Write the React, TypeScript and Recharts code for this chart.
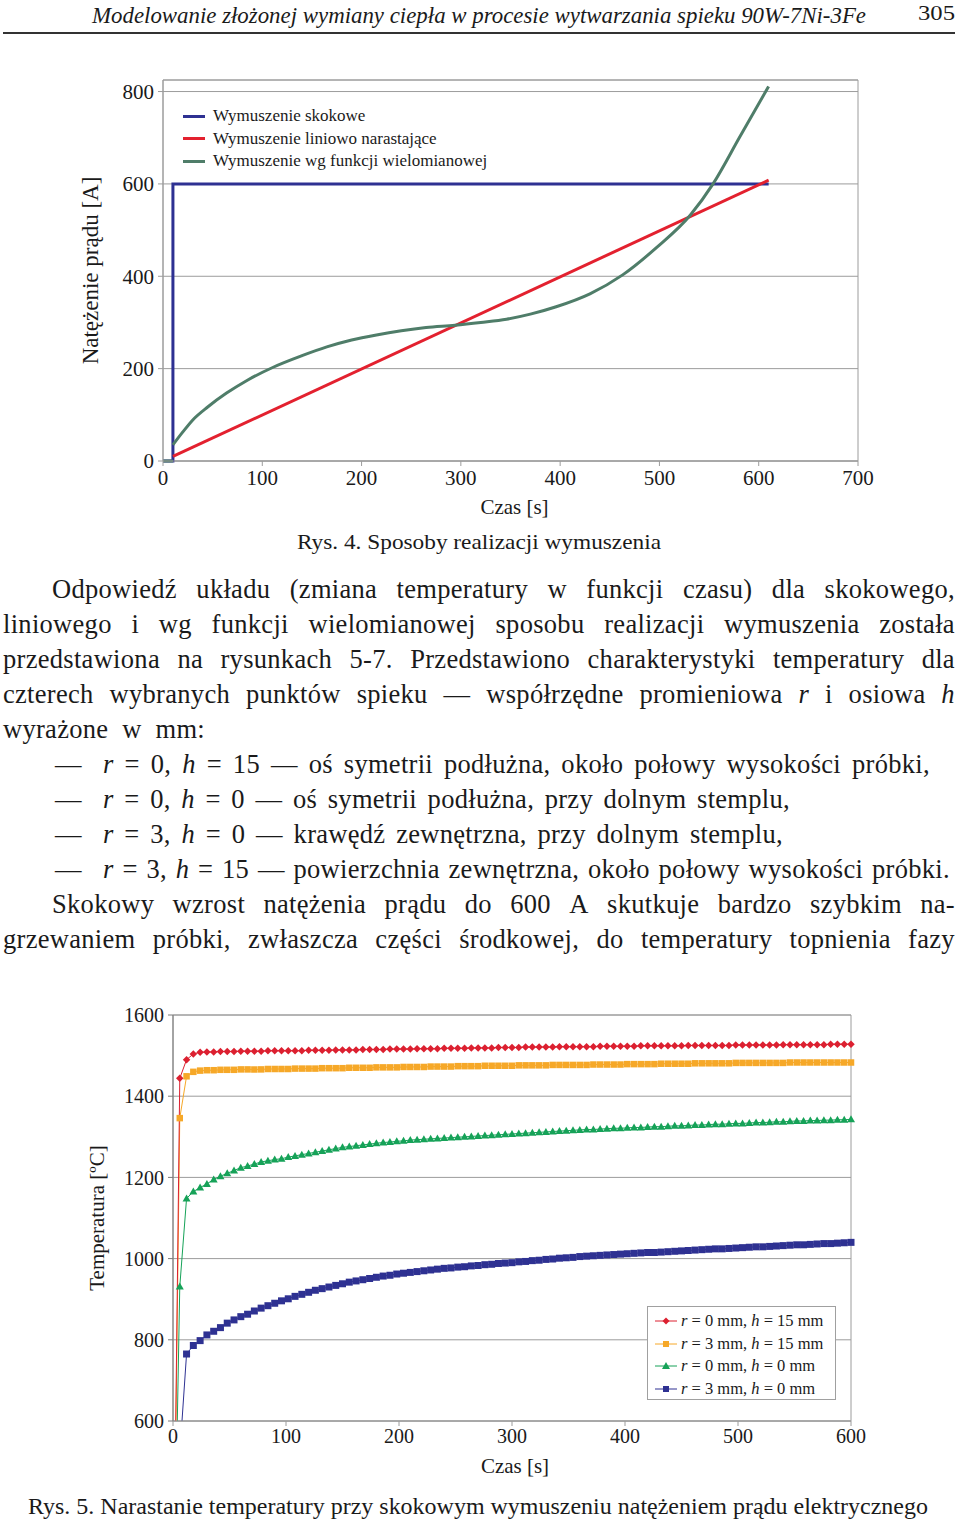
import React from "react";
import {
  LineChart,
  Line,
  XAxis,
  YAxis,
  CartesianGrid,
  ReferenceArea,
  Legend,
} from "recharts";

const SERIF = '"Liberation Serif", "Times New Roman", serif';

// ---- Rys. 4: current forcing [A] vs time [s]
const stepTime = [0, 10, 10, 610];
const stepCurrent = [0, 0, 600, 600];
const rampTime = [10, 610];
const rampCurrent = [10, 608];
const idleTime = [0, 10];
const idleCurrent = [0, 0];
const polyTime = [10, 20, 30, 45, 64, 85, 111, 140, 165, 190, 215, 240, 265, 294, 320, 346, 370, 396, 430, 463, 497, 531, 554, 581, 610];
const polyCurrent = [35, 63, 89, 117, 147, 175, 203, 228, 247, 262, 273, 282, 289, 294, 300, 307, 318, 334, 362, 403, 462, 532, 600, 702, 811];

const currentTicksX = [0, 100, 200, 300, 400, 500, 600, 700];
const currentTicksY = [0, 200, 400, 600, 800];

// ---- Rys. 5: temperature [°C] vs time [s]
const timeSec = [
  0, 6, 12, 18, 24, 30, 36, 42, 48, 54,
  60, 66, 72, 78, 84, 90, 96, 102, 108, 114,
  120, 126, 132, 138, 144, 150, 156, 162, 168, 174,
  180, 186, 192, 198, 204, 210, 216, 222, 228, 234,
  240, 246, 252, 258, 264, 270, 276, 282, 288, 294,
  300, 306, 312, 318, 324, 330, 336, 342, 348, 354,
  360, 366, 372, 378, 384, 390, 396, 402, 408, 414,
  420, 426, 432, 438, 444, 450, 456, 462, 468, 474,
  480, 486, 492, 498, 504, 510, 516, 522, 528, 534,
  540, 546, 552, 558, 564, 570, 576, 582, 588, 594,
  600,
];
const tempR0H15 = [
  20, 1444, 1490, 1504, 1508, 1509, 1509, 1510, 1510, 1510,
  1511, 1511, 1511, 1511, 1512, 1512, 1512, 1512, 1512, 1512,
  1513, 1513, 1513, 1513, 1514, 1514, 1514, 1514, 1515, 1515,
  1515, 1515, 1516, 1516, 1516, 1516, 1517, 1517, 1517, 1517,
  1518, 1518, 1518, 1518, 1519, 1519, 1519, 1519, 1520, 1520,
  1520, 1520, 1521, 1521, 1521, 1521, 1521, 1522, 1522, 1522,
  1522, 1522, 1522, 1523, 1523, 1523, 1523, 1523, 1523, 1524,
  1524, 1524, 1524, 1524, 1524, 1524, 1525, 1525, 1525, 1525,
  1525, 1525, 1525, 1526, 1526, 1526, 1526, 1526, 1526, 1526,
  1527, 1527, 1527, 1527, 1527, 1527, 1527, 1528, 1528, 1528,
  1528,
];
const tempR3H15 = [
  20, 1346, 1449, 1460, 1463, 1464, 1464, 1465, 1465, 1465,
  1466, 1466, 1466, 1466, 1467, 1467, 1467, 1467, 1468, 1468,
  1468, 1468, 1469, 1469, 1469, 1469, 1470, 1470, 1470, 1470,
  1471, 1471, 1471, 1471, 1472, 1472, 1472, 1472, 1473, 1473,
  1473, 1473, 1474, 1474, 1474, 1474, 1475, 1475, 1475, 1475,
  1475, 1476, 1476, 1476, 1476, 1476, 1477, 1477, 1477, 1477,
  1477, 1477, 1478, 1478, 1478, 1478, 1478, 1479, 1479, 1479,
  1479, 1479, 1480, 1480, 1480, 1480, 1480, 1481, 1481, 1481,
  1481, 1481, 1481, 1482, 1482, 1482, 1482, 1482, 1482, 1482,
  1482, 1483, 1483, 1483, 1483, 1483, 1483, 1483, 1483, 1483,
  1483,
];
const tempR0H0 = [
  20, 931, 1148, 1165, 1175, 1184, 1195, 1203, 1210, 1217,
  1224, 1228, 1233, 1238, 1241, 1244, 1246, 1250, 1253, 1256,
  1259, 1262, 1265, 1268, 1271, 1274, 1276, 1278, 1280, 1282,
  1284, 1286, 1287, 1289, 1290, 1292, 1293, 1294, 1295, 1296,
  1297, 1298, 1299, 1300, 1301, 1302, 1303, 1304, 1305, 1306,
  1307, 1308, 1309, 1310, 1311, 1312, 1313, 1314, 1315, 1316,
  1317, 1318, 1318, 1319, 1320, 1321, 1321, 1322, 1323, 1323,
  1324, 1325, 1325, 1326, 1327, 1327, 1328, 1329, 1329, 1330,
  1331, 1331, 1332, 1333, 1333, 1334, 1335, 1335, 1336, 1337,
  1337, 1338, 1339, 1339, 1340, 1340, 1341, 1341, 1342, 1342,
  1343,
];
const tempR3H0 = [
  20, 520, 765, 786, 798, 812, 821, 830, 841, 849,
  857, 863, 871, 878, 884, 890, 896, 901, 907, 912,
  917, 922, 926, 930, 934, 938, 942, 945, 948, 951,
  954, 957, 959, 962, 964, 966, 968, 970, 972, 974,
  976, 977, 979, 980, 982, 983, 985, 986, 988, 989,
  990, 992, 993, 995, 996, 998, 999, 1001, 1002, 1003,
  1005, 1006, 1007, 1008, 1009, 1010, 1011, 1012, 1013, 1014,
  1015, 1015, 1016, 1017, 1018, 1019, 1020, 1021, 1022, 1023,
  1024, 1024, 1025, 1026, 1027, 1028, 1029, 1029, 1030, 1031,
  1032, 1033, 1034, 1034, 1035, 1036, 1037, 1037, 1038, 1039,
  1040,
];

const tempTicksX = [0, 100, 200, 300, 400, 500, 600];
const tempTicksY = [600, 800, 1000, 1200, 1400, 1600];

const toPoints = (xs: number[], ys: number[]) => xs.map((t, i) => ({ t, v: ys[i] }));

const stepData = toPoints(stepTime, stepCurrent);
const rampData = toPoints(rampTime, rampCurrent);
const idleData = toPoints(idleTime, idleCurrent);
const polyData = toPoints(polyTime, polyCurrent);

const tempData = timeSec.map((t, i) => ({
  t,
  a: tempR0H15[i],
  b: tempR3H15[i],
  c: tempR0H0[i],
  d: tempR3H0[i],
}));

const C1_BLUE = "#2e3192";
const C1_RED = "#e3212f";
const C1_GREEN = "#4f7d69";

const C2_RED = "#dc2030";
const C2_ORANGE = "#f6a828";
const C2_GREEN = "#16a258";
const C2_BLUE = "#2e3192";

const GRID = "#9c9c9c";

type Kind = "diamond" | "square" | "triangle";

function markerPath(kind: Kind, cx: number, cy: number, size: number) {
  const s = size / 2;
  if (kind === "diamond") return `M${cx},${cy - s}L${cx + s},${cy}L${cx},${cy + s}L${cx - s},${cy}Z`;
  if (kind === "triangle") return `M${cx},${cy - s}L${cx + s},${cy + s * 0.75}L${cx - s},${cy + s * 0.75}Z`;
  return `M${cx - s},${cy - s}h${size}v${size}h${-size}Z`;
}

const makeDot = (kind: Kind, color: string, size: number) => (props: any) => {
  const { cx, cy, index } = props;
  const key = `dot-${kind}-${color}-${index}`;
  if (typeof cx !== "number" || typeof cy !== "number") return <g key={key} />;
  return <path key={key} d={markerPath(kind, cx, cy, size)} fill={color} />;
};

const yTitle = (text: React.ReactNode, dx: number, size: number) => (props: any) => {
  const vb = props.viewBox || {};
  const cx = vb.x + dx;
  const cy = vb.y + vb.height / 2;
  return (
    <text
      x={cx}
      y={cy}
      transform={`rotate(-90 ${cx} ${cy})`}
      textAnchor="middle"
      dominantBaseline="central"
      fill="#1a1a1a"
      style={{ fontFamily: SERIF, fontSize: size }}
    >
      {text}
    </text>
  );
};

const xTitle = (text: string, dx: number, dy: number, size: number) => (props: any) => {
  const vb = props.viewBox || {};
  return (
    <text
      x={vb.x + vb.width / 2 + dx}
      y={vb.y + dy}
      textAnchor="middle"
      dominantBaseline="central"
      fill="#1a1a1a"
      style={{ fontFamily: SERIF, fontSize: size }}
    >
      {text}
    </text>
  );
};

const currentLegend = () => {
  const rows = [
    { c: C1_BLUE, t: "Wymuszenie skokowe" },
    { c: C1_RED, t: "Wymuszenie liniowo narastające" },
    { c: C1_GREEN, t: "Wymuszenie wg funkcji wielomianowej" },
  ];
  return (
    <div style={{ fontFamily: SERIF, fontSize: 17, color: "#1a1a1a" }}>
      {rows.map((r) => (
        <div key={r.t} style={{ display: "flex", alignItems: "center", height: 22.5 }}>
          <span style={{ width: 22, height: 3, background: r.c, marginRight: 8 }} />
          <span style={{ whiteSpace: "nowrap" }}>{r.t}</span>
        </div>
      ))}
    </div>
  );
};

const tempLegend = () => {
  const rows: { c: string; k: Kind; s: number; r: string; h: string }[] = [
    { c: C2_RED, k: "diamond", s: 7, r: "0", h: "15" },
    { c: C2_ORANGE, k: "square", s: 6, r: "3", h: "15" },
    { c: C2_GREEN, k: "triangle", s: 8, r: "0", h: "0" },
    { c: C2_BLUE, k: "square", s: 6, r: "3", h: "0" },
  ];
  return (
    <div
      style={{
        width: 189,
        height: 94,
        boxSizing: "border-box",
        border: "1px solid #a0a0a0",
        background: "#fff",
        padding: "3px 0 0 7px",
        fontFamily: SERIF,
        fontSize: 16.5,
        color: "#1a1a1a",
      }}
    >
      {rows.map((row, i) => (
        <div key={i} style={{ display: "flex", alignItems: "center", height: 22.5 }}>
          <svg width={22} height={10} style={{ marginRight: 4 }}>
            <line x1={0} y1={5} x2={22} y2={5} stroke={row.c} strokeWidth={1} />
            <path d={markerPath(row.k, 11, 5, row.s)} fill={row.c} />
          </svg>
          <span style={{ whiteSpace: "nowrap" }}>
            <i>r</i> = {row.r} mm, <i>h</i> = {row.h} mm
          </span>
        </div>
      ))}
    </div>
  );
};

const tickStyle1 = { fill: "#1a1a1a", fontSize: 21, fontFamily: SERIF };
const tickStyle2 = { fill: "#1a1a1a", fontSize: 20, fontFamily: SERIF };

function CurrentChart() {
  return (
    <LineChart width={960} height={560} margin={{ top: 80, right: 102, bottom: 69, left: 83 }}>
      <CartesianGrid horizontal vertical={false} stroke={GRID} />
      <ReferenceArea x1={0} x2={700} y1={0} y2={825} fill="none" stroke={GRID} strokeWidth={1} />
      <XAxis
        type="number"
        dataKey="t"
        domain={[0, 700]}
        ticks={currentTicksX}
        interval={0}
        height={30}
        tick={tickStyle1}
        tickSize={5}
        tickMargin={4}
        stroke={GRID}
        label={{ content: xTitle("Czas [s]", 4, 46, 21) }}
      />
      <YAxis
        type="number"
        domain={[0, 825]}
        ticks={currentTicksY}
        interval={0}
        width={80}
        tick={tickStyle1}
        tickSize={5}
        tickMargin={4}
        stroke={GRID}
        label={{ content: yTitle("Natężenie prądu [A]", 7, 23) }}
      />
      <Legend
        layout="vertical"
        align="center"
        verticalAlign="middle"
        content={currentLegend}
        wrapperStyle={{ left: 183, top: 105, width: "auto" }}
      />
      <Line data={stepData} dataKey="v" type="linear" stroke={C1_BLUE} strokeWidth={3} dot={false} isAnimationActive={false} legendType="none" />
      <Line data={rampData} dataKey="v" type="linear" stroke={C1_RED} strokeWidth={3} dot={false} isAnimationActive={false} legendType="none" />
      <Line data={idleData} dataKey="v" type="linear" stroke={C1_GREEN} strokeWidth={3} dot={false} isAnimationActive={false} legendType="none" />
      <Line data={polyData} dataKey="v" type="monotone" stroke={C1_GREEN} strokeWidth={3} dot={false} isAnimationActive={false} legendType="none" />
    </LineChart>
  );
}

function TempChart() {
  return (
    <LineChart width={960} height={530} data={tempData} margin={{ top: 35, right: 109, bottom: 54, left: 93 }}>
      <CartesianGrid horizontal vertical={false} stroke={GRID} />
      <ReferenceArea x1={0} x2={600} y1={600} y2={1600} fill="none" stroke={GRID} strokeWidth={1} />
      <XAxis
        type="number"
        dataKey="t"
        domain={[0, 600]}
        ticks={tempTicksX}
        interval={0}
        height={35}
        tick={tickStyle2}
        tickSize={5}
        tickMargin={3}
        stroke={GRID}
        label={{ content: xTitle("Czas [s]", 3, 45, 21) }}
      />
      <YAxis
        type="number"
        domain={[600, 1600]}
        allowDataOverflow
        ticks={tempTicksY}
        interval={0}
        width={80}
        tick={tickStyle2}
        tickSize={5}
        tickMargin={4}
        stroke="#7a7a7a"
        label={{ content: yTitle("Temperatura [ºC]", 4, 21) }}
      />
      <Legend
        layout="vertical"
        align="center"
        verticalAlign="middle"
        content={tempLegend}
        wrapperStyle={{ left: 647, top: 326, width: "auto" }}
      />
      <Line dataKey="d" type="linear" stroke={C2_BLUE} strokeWidth={1} dot={makeDot("square", C2_BLUE, 7)} isAnimationActive={false} />
      <Line dataKey="c" type="linear" stroke={C2_GREEN} strokeWidth={1} dot={makeDot("triangle", C2_GREEN, 8)} isAnimationActive={false} />
      <Line dataKey="b" type="linear" stroke={C2_ORANGE} strokeWidth={1} dot={makeDot("square", C2_ORANGE, 6.5)} isAnimationActive={false} />
      <Line dataKey="a" type="linear" stroke={C2_RED} strokeWidth={1} dot={makeDot("diamond", C2_RED, 7.5)} isAnimationActive={false} />
    </LineChart>
  );
}

const BODY_SIZE = 26.5;
const BODY_SPACING = 0.3;
const LINE_H = 35;
const BODY_TOP = 572;

// words wrapped in *...* are set in italics; the words are spread over the line width
function BodyLine({ row, left, right, text }: { row: number; left: number; right: number; text: string }) {
  const words = text.split(" ");
  return (
    <div
      style={{
        position: "absolute",
        top: BODY_TOP + row * LINE_H,
        left,
        width: right - left,
        height: LINE_H,
        lineHeight: `${LINE_H}px`,
        fontSize: BODY_SIZE,
        letterSpacing: BODY_SPACING,
        display: "flex",
        justifyContent: "space-between",
        whiteSpace: "nowrap",
      }}
    >
      {words.map((w, i) =>
        w.length > 2 && w.startsWith("*") && w.endsWith("*") ? (
          <i key={i}>{w.slice(1, -1)}</i>
        ) : (
          <span key={i}>{w}</span>
        )
      )}
    </div>
  );
}

function Dash({ row }: { row: number }) {
  return (
    <div
      style={{
        position: "absolute",
        top: BODY_TOP + row * LINE_H,
        left: 55,
        lineHeight: `${LINE_H}px`,
        fontSize: BODY_SIZE,
      }}
    >
      —
    </div>
  );
}

function SvgLine({ x, y, width, size, children, italic = false }: any) {
  return (
    <svg
      width={960}
      height={40}
      style={{ position: "absolute", left: 0, top: y - 20, overflow: "visible" }}
    >
      <text
        x={x}
        y={20}
        dominantBaseline="central"
        textLength={width}
        lengthAdjust="spacingAndGlyphs"
        fill="#1a1a1a"
        style={{ fontFamily: SERIF, fontSize: size, fontStyle: italic ? "italic" : "normal" }}
      >
        {children}
      </text>
    </svg>
  );
}

export default function App() {
  return (
    <div
      style={{
        position: "absolute",
        left: 0,
        top: 0,
        width: 960,
        height: 1523,
        background: "#fff",
        fontFamily: SERIF,
        color: "#1a1a1a",
        overflow: "hidden",
      }}
    >
      <SvgLine x={92} y={15} width={774} size={23} italic>
        Modelowanie złożonej wymiany ciepła w procesie wytwarzania spieku 90W-7Ni-3Fe
      </SvgLine>
      <SvgLine x={918} y={12} width={37} size={22}>
        305
      </SvgLine>
      <div style={{ position: "absolute", left: 3, top: 32, width: 952, height: 1.5, background: "#333" }} />

      <div style={{ position: "absolute", left: 0, top: 0 }}>
        <CurrentChart />
      </div>
      <SvgLine x={297} y={541} width={364} size={22}>
        Rys. 4. Sposoby realizacji wymuszenia
      </SvgLine>

      <BodyLine row={0} left={52} right={955} text="Odpowiedź układu (zmiana temperatury w funkcji czasu) dla skokowego," />
      <BodyLine row={1} left={3} right={955} text="liniowego i wg funkcji wielomianowej sposobu realizacji wymuszenia została" />
      <BodyLine row={2} left={3} right={955} text="przedstawiona na rysunkach 5-7. Przedstawiono charakterystyki temperatury dla" />
      <BodyLine row={3} left={3} right={955} text="czterech wybranych punktów spieku — współrzędne promieniowa *r* i osiowa *h*" />
      <BodyLine row={4} left={3} right={205} text="wyrażone w mm:" />
      <Dash row={5} />
      <BodyLine row={5} left={103} right={930} text="*r* = 0, *h* = 15 — oś symetrii podłużna, około połowy wysokości próbki," />
      <Dash row={6} />
      <BodyLine row={6} left={103} right={790} text="*r* = 0, *h* = 0 — oś symetrii podłużna, przy dolnym stemplu," />
      <Dash row={7} />
      <BodyLine row={7} left={103} right={783} text="*r* = 3, *h* = 0 — krawędź zewnętrzna, przy dolnym stemplu," />
      <Dash row={8} />
      <BodyLine row={8} left={103} right={950} text="*r* = 3, *h* = 15 — powierzchnia zewnętrzna, około połowy wysokości próbki." />
      <BodyLine row={9} left={52} right={955} text="Skokowy wzrost natężenia prądu do 600 A skutkuje bardzo szybkim na-" />
      <BodyLine row={10} left={3} right={955} text="grzewaniem próbki, zwłaszcza części środkowej, do temperatury topnienia fazy" />

      <div style={{ position: "absolute", left: 0, top: 980 }}>
        <TempChart />
      </div>
      <SvgLine x={28} y={1506} width={900} size={23}>
        Rys. 5. Narastanie temperatury przy skokowym wymuszeniu natężeniem prądu elektrycznego
      </SvgLine>
    </div>
  );
}
